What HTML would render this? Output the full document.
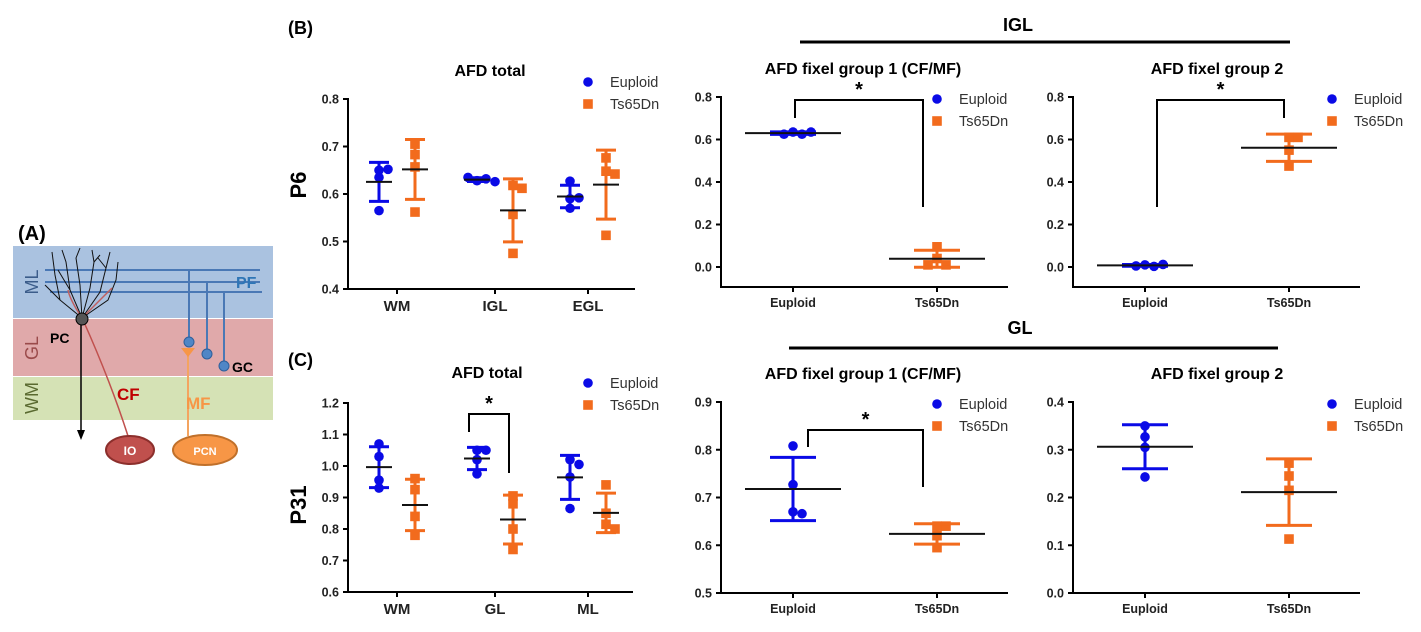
<!DOCTYPE html>
<html><head><meta charset="utf-8"><style>
html,body{margin:0;padding:0;background:#fff;}
svg{display:block;font-family:"Liberation Sans",Arial,sans-serif;}
</style></head><body>
<svg id="fig" width="1421" height="632" viewBox="0 0 1421 632">
<!-- Panel A -->
<g>
<text x="18" y="240" font-size="20" font-weight="bold">(A)</text>
<rect x="13" y="246" width="260" height="72" fill="#aac2e0"/>
<rect x="13" y="319" width="260" height="57" fill="#e0a9aa"/>
<rect x="13" y="377" width="260" height="43" fill="#d5e2b5"/>
<text transform="translate(38,282) rotate(-90)" text-anchor="middle" font-size="18" fill="#3b5c8a">ML</text>
<text transform="translate(38,348) rotate(-90)" text-anchor="middle" font-size="18" fill="#9a4a4a">GL</text>
<text transform="translate(38,398) rotate(-90)" text-anchor="middle" font-size="18" fill="#5a6a30">WM</text>
<g stroke="#4a78b5" stroke-width="2" fill="none">
<line x1="45" y1="270" x2="260" y2="270"/><line x1="45" y1="282" x2="260" y2="282"/><line x1="50" y1="292" x2="262" y2="292"/>
<line x1="189" y1="270" x2="189" y2="340"/><line x1="207" y1="283" x2="207" y2="353"/><line x1="224" y1="293" x2="224" y2="365"/>
</g>
<g stroke="#111" stroke-width="1" fill="none">
<path d="M82 318 L60 300 L55 275 L52 252 M82 318 L70 290 L66 262 L62 250 M82 318 L80 285 L76 258 L80 248 M82 318 L90 288 L94 262 L92 250 M82 318 L100 292 L106 268 L110 252 M82 318 L108 300 L116 280 L118 262 M60 300 L45 285 M70 290 L58 270 M94 262 L100 255 M106 268 L98 258"/>
</g>
<path d="M82 318 Q70 300 68 290 M82 318 Q100 300 112 288" stroke="#c06060" stroke-width="1.5" fill="none"/>
<text x="236" y="288" font-size="16" font-weight="bold" fill="#2e75b6">PF</text>
<line x1="81" y1="320" x2="81" y2="432" stroke="#000" stroke-width="1.5"/>
<path d="M77 430 L81 440 L85 430 Z" fill="#000"/>
<path d="M83 320 Q110 380 128 436" stroke="#c0504d" stroke-width="1.5" fill="none"/>
<circle cx="82" cy="319" r="6" fill="#555" stroke="#000"/>
<text x="50" y="343" font-size="14" font-weight="bold">PC</text>
<line x1="188" y1="350" x2="188" y2="436" stroke="#f4a460" stroke-width="2"/>
<path d="M181 348 L195 348 L188 357 Z" fill="#f79646"/>
<g fill="#4f86c6" stroke="#2e5f9a"><circle cx="189" cy="342" r="5"/><circle cx="207" cy="354" r="5"/><circle cx="224" cy="366" r="5"/></g>
<text x="232" y="372" font-size="14" font-weight="bold">GC</text>
<text x="117" y="400" font-size="17" font-weight="bold" fill="#c00000">CF</text>
<text x="186" y="409" font-size="17" font-weight="bold" fill="#f79646">MF</text>
<ellipse cx="130" cy="450" rx="24" ry="14" fill="#c0504d" stroke="#8c2f2c" stroke-width="2"/>
<text x="130" y="455" text-anchor="middle" font-size="12" font-weight="bold" fill="#fff">IO</text>
<ellipse cx="205" cy="450" rx="32" ry="15" fill="#f79646" stroke="#c0702a" stroke-width="2"/>
<text x="205" y="455" text-anchor="middle" font-size="11" font-weight="bold" fill="#fff">PCN</text>
</g>
<text x="288" y="34" font-size="18" font-weight="bold">(B)</text>
<text x="288" y="366" font-size="18" font-weight="bold">(C)</text>
<text transform="translate(306,185) rotate(-90)" text-anchor="middle" font-size="22" font-weight="bold">P6</text>
<text transform="translate(306,505) rotate(-90)" text-anchor="middle" font-size="22" font-weight="bold">P31</text>
<text x="1018" y="31" text-anchor="middle" font-size="18" font-weight="bold">IGL</text>
<line x1="800" y1="42" x2="1290" y2="42" stroke="#000" stroke-width="3"/>
<text x="1020" y="334" text-anchor="middle" font-size="18" font-weight="bold">GL</text>
<line x1="789" y1="348" x2="1278" y2="348" stroke="#000" stroke-width="3"/>
</svg>
<script>
// ---- data ----
const b1Categories = ["WM","IGL","EGL"];
const b1Euploid = [[0.650,0.652,0.635,0.565],[0.628,0.632,0.635,0.626],[0.627,0.590,0.592,0.570]];
const b1Ts65Dn = [[0.705,0.683,0.657,0.562],[0.618,0.612,0.557,0.475],[0.676,0.648,0.642,0.513]];
const b1Ticks = ["0.4","0.5","0.6","0.7","0.8"];
const c1Categories = ["WM","GL","ML"];
const c1Euploid = [[1.070,1.030,0.955,0.930],[1.050,1.050,1.020,0.975],[1.020,1.005,0.965,0.865]];
const c1Ts65Dn = [[0.960,0.925,0.840,0.780],[0.905,0.880,0.800,0.735],[0.940,0.850,0.815,0.800]];
const c1Ticks = ["0.6","0.7","0.8","0.9","1.0","1.1","1.2"];
const groupCategories = ["Euploid","Ts65Dn"];
const b2Euploid = [0.635,0.625,0.625,0.635];
const b2Ts65Dn = [0.095,0.040,0.010,0.010];
const b3Euploid = [0.010,0.003,0.005,0.012];
const b3Ts65Dn = [0.610,0.610,0.550,0.475];
const bTicks = ["0.0","0.2","0.4","0.6","0.8"];
const c2Euploid = [0.808,0.727,0.670,0.666];
const c2Ts65Dn = [0.640,0.640,0.620,0.595];
const c2Ticks = ["0.5","0.6","0.7","0.8","0.9"];
const c3Euploid = [0.350,0.327,0.305,0.243];
const c3Ts65Dn = [0.272,0.245,0.215,0.113];
const c3Ticks = ["0.0","0.1","0.2","0.3","0.4"];

const NS="http://www.w3.org/2000/svg";
const svg=document.getElementById('fig');
const BLUE="#0a0ae6", ORANGE="#f26b1d";
function mk(tag,attrs,parent){const e=document.createElementNS(NS,tag);for(const k in attrs)e.setAttribute(k,attrs[k]);(parent||svg).appendChild(e);return e;}
function stats(a){const m=a.reduce((s,v)=>s+v,0)/a.length;const sd=Math.sqrt(a.reduce((s,v)=>s+(v-m)*(v-m),0)/(a.length-1));return [m,sd];}

function panel(o){
  const g=mk('g',{});
  
  
  const y=v=>o.y0-(v-o.vmin)/(o.vmax-o.vmin)*(o.y0-o.y1);
  const axB=o.axisBottom||o.y0;
  const ax=mk('path',{d:`M${o.ax} ${o.y1-1} L${o.ax} ${axB} L${o.xend} ${axB}`,stroke:'#000','stroke-width':2,fill:'none'},g);
  
  
  o.ticks.forEach(t=>{const v=parseFloat(t),yy=y(v);
    mk('line',{x1:o.ax-5,x2:o.ax,y1:yy,y2:yy,stroke:'#000','stroke-width':2},g);
    const tx=mk('text',{x:o.ax-9,y:yy+4.5,'text-anchor':'end','font-size':12.5,'font-weight':'bold',fill:'#222'},g);
    tx.textContent=t;
    
    
  });
  o.cats.forEach((c,i)=>{const cx=o.catX[i];
    mk('line',{x1:cx,x2:cx,y1:axB,y2:axB+5,stroke:'#000','stroke-width':2},g);
    const tx=mk('text',{x:cx,y:axB+(o.big?22:20),'text-anchor':'middle','font-size':o.big?15:12.5,'font-weight':'bold',fill:'#222'},g);
    tx.textContent=c;
    
    
  });
  const t=mk('text',{x:o.titleX,y:o.titleY,'text-anchor':'middle','font-size':16,'font-weight':'bold'},g);
  t.textContent=o.title;
  
  
  o.series.forEach(s=>{
    s.data.forEach((pts,i)=>{
      const cx=o.catX[i]+s.off; const [m,sd]=stats(pts);
      const sg=mk('g',{},g);
      
      
      // points beeswarm
      const placed=[];
      pts.forEach(v=>{const yy=y(v);let k=0;placed.forEach(p=>{if(Math.abs(p-yy)<7)k++;});placed.push(yy);
        const dx=k===0?0:(k%2?1:-1)*Math.ceil(k/2)*9;
        let mark;
        if(s.shape==='circle') mark=mk('circle',{cx:cx+dx,cy:yy,r:4.8,fill:s.color},sg);
        else mark=mk('rect',{x:cx+dx-4.8,y:yy-4.8,width:9.6,height:9.6,fill:s.color},sg);
        
        
      });
      const e=mk('path',{d:`M${cx} ${y(m+sd)} L${cx} ${y(m-sd)} M${cx-o.cap} ${y(m+sd)} L${cx+o.cap} ${y(m+sd)} M${cx-o.cap} ${y(m-sd)} L${cx+o.cap} ${y(m-sd)}`,stroke:s.color,'stroke-width':3,fill:'none'},sg);
      
      
      const ml=mk('line',{x1:cx-o.meanW,x2:cx+o.meanW,y1:y(m),y2:y(m),stroke:'#111','stroke-width':2},sg);
      
      
    });
  });
  // legend
  const lg=mk('g',{},g);
  
  
  mk('circle',{cx:o.legX,cy:o.legY,r:4.8,fill:BLUE},lg);
  mk('rect',{x:o.legX-4.8,y:o.legY+22-4.8,width:9.6,height:9.6,fill:ORANGE},lg);
  const l1=mk('text',{x:o.legX+22,y:o.legY+5,'font-size':14.5,fill:'#333'},lg);l1.textContent='Euploid';
  const l2=mk('text',{x:o.legX+22,y:o.legY+27,'font-size':14.5,fill:'#333'},lg);l2.textContent='Ts65Dn';
  if(o.sig){const s=o.sig;
    const p=mk('path',{d:`M${s.x1} ${s.ya} L${s.x1} ${s.yt} L${s.x2} ${s.yt} L${s.x2} ${s.yb}`,stroke:'#000','stroke-width':2,fill:'none'},g);
    
    
    const st=mk('text',{x:(s.x1+s.x2)/2,y:s.yt-4,'text-anchor':'middle','font-size':20,'font-weight':'bold'},g);
    st.textContent='*';
    
    
  }
}
panel({name:'p6-afd-total',ax:348,y0:289,y1:99,vmin:0.4,vmax:0.8,xend:635,ticks:b1Ticks,cats:b1Categories,catX:[397,495,588],big:true,
 title:'AFD total',titleX:490,titleY:76,cap:10,meanW:13,legX:588,legY:82,
 series:[{key:'euploid',data:b1Euploid,color:BLUE,shape:'circle',off:-18},{key:'ts65dn',data:b1Ts65Dn,color:ORANGE,shape:'square',off:18}]});
panel({name:'p31-afd-total',ax:348,y0:592,y1:403,vmin:0.6,vmax:1.2,xend:633,ticks:c1Ticks,cats:c1Categories,catX:[397,495,588],big:true,
 title:'AFD total',titleX:487,titleY:378,cap:10,meanW:13,legX:588,legY:383,
 series:[{key:'euploid',data:c1Euploid,color:BLUE,shape:'circle',off:-18},{key:'ts65dn',data:c1Ts65Dn,color:ORANGE,shape:'square',off:18}],
 sig:{x1:469,x2:509,ya:432,yt:414,yb:473}});
panel({name:'p6-igl-fixel-group-1',ax:721,y0:267,y1:97,vmin:0,vmax:0.8,axisBottom:287,xend:1008,ticks:bTicks,cats:groupCategories,catX:[793,937],
 title:'AFD fixel group 1 (CF/MF)',titleX:863,titleY:74,cap:23,meanW:48,legX:937,legY:99,
 series:[{key:'euploid',data:[b2Euploid],color:BLUE,shape:'circle',off:0},{key:'ts65dn',data:[b2Ts65Dn],color:ORANGE,shape:'square',off:0}].map((s,i)=>({...s,off:i?144:0})),
 sig:{x1:795,x2:923,ya:118,yt:100,yb:207}});
panel({name:'p6-igl-fixel-group-2',ax:1073,y0:267,y1:97,vmin:0,vmax:0.8,axisBottom:287,xend:1360,ticks:bTicks,cats:groupCategories,catX:[1145,1289],
 title:'AFD fixel group 2',titleX:1217,titleY:74,cap:23,meanW:48,legX:1332,legY:99,
 series:[{key:'euploid',data:[b3Euploid],color:BLUE,shape:'circle',off:0},{key:'ts65dn',data:[b3Ts65Dn],color:ORANGE,shape:'square',off:144}],
 sig:{x1:1157,x2:1284,ya:207,yt:100,yb:118}});
panel({name:'p31-gl-fixel-group-1',ax:721,y0:593,y1:402,vmin:0.5,vmax:0.9,xend:1008,ticks:c2Ticks,cats:groupCategories,catX:[793,937],
 title:'AFD fixel group 1 (CF/MF)',titleX:863,titleY:379,cap:23,meanW:48,legX:937,legY:404,
 series:[{key:'euploid',data:[c2Euploid],color:BLUE,shape:'circle',off:0},{key:'ts65dn',data:[c2Ts65Dn],color:ORANGE,shape:'square',off:144}],
 sig:{x1:808,x2:923,ya:447,yt:430,yb:487}});
panel({name:'p31-gl-fixel-group-2',ax:1073,y0:593,y1:402,vmin:0,vmax:0.4,xend:1360,ticks:c3Ticks,cats:groupCategories,catX:[1145,1289],
 title:'AFD fixel group 2',titleX:1217,titleY:379,cap:23,meanW:48,legX:1332,legY:404,
 series:[{key:'euploid',data:[c3Euploid],color:BLUE,shape:'circle',off:0},{key:'ts65dn',data:[c3Ts65Dn],color:ORANGE,shape:'square',off:144}]});
</script>
</body></html>
